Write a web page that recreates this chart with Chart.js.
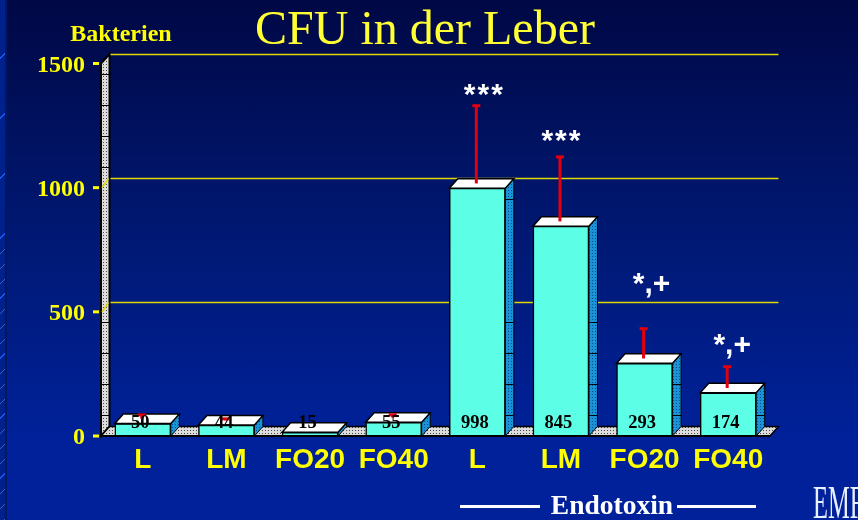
<!DOCTYPE html>
<html>
<head>
<meta charset="utf-8">
<title>CFU in der Leber</title>
<script src="https://cdn.jsdelivr.net/npm/chart.js@4"></script>
<style>
    html, body { margin: 0; padding: 0; overflow: hidden; }
    body {
        width: 858px;
        height: 520px;
        background: linear-gradient(to bottom, #000845 0%, #001a78 50%, #00219a 85%, #00219a 100%);
        position: relative;
    }
    /* textured strip along the left edge of the slide */
    .strip {
        position: absolute;
        left: 0; top: 0;
        width: 5px; height: 520px;
        background:
            repeating-linear-gradient(135deg, transparent 0, transparent 41px, #1a58f0 41px, #1a58f0 42.4px),
            repeating-linear-gradient(135deg, transparent 0, transparent 10px, #3a62b8 10px, #3a62b8 10.6px),
            #00208c;
        border-right: 2px solid #001860;
    }
    canvas { position: absolute; left: 0; top: 0; }
</style>
</head>
<body>
<div class="strip"></div>
<canvas id="chart" width="858" height="520"></canvas>
<script>
const categories = ['L', 'LM', 'FO20', 'FO40', 'L', 'LM', 'FO20', 'FO40'];
const values = [50, 44, 15, 55, 998, 845, 293, 174];
const errors = [18, 8, 0, 13, 315, 262, 122, 88];
const yTicks = [0, 500, 1000, 1500];
const wallLines = [1420, 1295, 1170, 1045, 422, 297, 173, 48];
const sideLines = [917, 422, 297, 173, 48];
const sigLabels = ['', '', '', '', '***', '***', '*,+', '*,+'];

// look of the fake 3D block
const DX = 8.5;
const DY = 9.5;
const sigShiftX = [0, 0, 0, 0, 7, 1, 7, 4];
const sigShiftY = [0, 0, 0, 0, 0, -6, -34, -11];

function dotPattern(bg, dot) {
    const c = document.createElement('canvas');
    c.width = 3;
    c.height = 3;
    const g = c.getContext('2d');
    g.fillStyle = bg;
    g.fillRect(0, 0, 3, 3);
    g.fillStyle = dot;
    g.fillRect(1, 1, 1, 1);
    return g.createPattern(c, 'repeat');
}

function poly(ctx, pts, fill, stroke, lw) {
    ctx.beginPath();
    pts.forEach((p, i) => i ? ctx.lineTo(p[0], p[1]) : ctx.moveTo(p[0], p[1]));
    ctx.closePath();
    ctx.fillStyle = fill;
    ctx.fill();
    if (stroke) {
        ctx.strokeStyle = stroke;
        ctx.lineWidth = lw || 1;
        ctx.stroke();
    }
}

function line(ctx, x1, y1, x2, y2) {
    ctx.beginPath();
    ctx.moveTo(x1, y1);
    ctx.lineTo(x2, y2);
    ctx.stroke();
}

function label(ctx, text, x, y, font, color) {
    ctx.font = font;
    ctx.fillStyle = color;
    ctx.textAlign = 'center';
    ctx.textBaseline = 'middle';
    ctx.fillText(text, x, y);
}

const backdrop = {
    id: 'backdrop',
    beforeDatasetsDraw(chart) {
        const { ctx, chartArea: a, scales: { y } } = chart;
        const y0 = y.getPixelForValue(0);
        const yTop = y.getPixelForValue(1500);
        const wall = dotPattern('#dcdcdc', '#484848');
        ctx.save();
        // left wall and floor
        poly(ctx, [[a.left, y0], [a.left + DX, y0 - DY], [a.left + DX, yTop - DY], [a.left, yTop]], wall, '#000', 2);
        poly(ctx, [[a.left, y0], [a.left + DX, y0 - DY], [a.right + DX, y0 - DY], [a.right, y0]], wall, '#000', 1.5);
        ctx.strokeStyle = '#000';
        ctx.lineWidth = 1;
        wallLines.forEach(v => {
            const py = Math.round(y.getPixelForValue(v) - DY) + 0.5;
            line(ctx, a.left, py, a.left + DX, py);
        });
        // yellow grid lines on the back plane, with their foot on the wall
        ctx.strokeStyle = '#dcd800';
        ctx.lineWidth = 1.5;
        yTicks.slice(1).forEach(v => {
            const py = y.getPixelForValue(v);
            const back = Math.round(py - DY) + 0.5;
            line(ctx, a.left + DX + 1, back, a.right + DX, back);
            if (v < 1500) {
                line(ctx, a.left + 1, py, a.left + DX - 1, back);
            }
        });
        // tick marks
        ctx.strokeStyle = '#ffff00';
        ctx.lineWidth = 3;
        yTicks.forEach(v => {
            const py = y.getPixelForValue(v);
            line(ctx, a.left - 8, py, a.left - 2, py);
        });
        ctx.restore();
    },
    afterDraw(chart) {
        const { ctx, chartArea: a, scales: { y } } = chart;
        const y0 = y.getPixelForValue(0);
        const meta = chart.getDatasetMeta(0);
        const side = dotPattern('#1a94d8', '#064a90');
        ctx.save();

        ctx.strokeStyle = '#000';
        ctx.lineWidth = 2;
        line(ctx, a.left, y0, a.right, y0);

        meta.data.forEach((bar, i) => {
            const l = bar.x - bar.width / 2;
            const r = bar.x + bar.width / 2;
            // side and top faces
            poly(ctx, [[r, bar.y], [r + DX, bar.y - DY], [r + DX, y0 - DY], [r, y0]], side, '#000', 1);
            poly(ctx, [[l, bar.y], [l + DX, bar.y - DY], [r + DX, bar.y - DY], [r, bar.y]], '#ffffff', '#000', 1.5);

            ctx.strokeStyle = '#000';
            ctx.lineWidth = 1;
            sideLines.forEach(v => {
                const py = Math.round(y.getPixelForValue(v) - DY) + 0.5;
                if (py > bar.y + 2 && py < y0 - 2) {
                    line(ctx, r, py, r + DX, py);
                }
            });

            // error bar, rises from the top face
            const cx = bar.x - 1;
            const from = bar.y - DY / 2;
            const to = y.getPixelForValue(values[i] + errors[i]) - DY / 2;
            if (errors[i] > 0) {
                ctx.fillStyle = '#e00010';
                ctx.fillRect(cx - 1.5, to, 3, from - to);
                ctx.fillRect(cx - 4, to - 1, 8, 3);
            }
        });

        meta.data.forEach((bar, i) => {
            label(ctx, String(values[i]), bar.x - 2.5, y0 - 13, 'bold 18.5px "Liberation Serif"', '#000');
            if (sigLabels[i]) {
                const top = y.getPixelForValue(values[i] + errors[i]) - DY / 2;
                ctx.letterSpacing = sigLabels[i] === '***' ? '2px' : '0px';
                label(ctx, sigLabels[i], bar.x + sigShiftX[i], top + sigShiftY[i] - 9, 'bold 30px "Liberation Sans"', '#ffffff');
                ctx.letterSpacing = '0px';
            }
        });

        // slide texts
        label(ctx, 'CFU in der Leber', 425, 31, '48px "Liberation Serif"', '#ffff33');
        label(ctx, 'Bakterien', 121, 35, 'bold 24px "Liberation Serif"', '#ffff00');
        label(ctx, 'Endotoxin', 612, 507, 'bold 27.5px "Liberation Serif"', '#ffffff');
        ctx.fillStyle = '#ffffff';
        ctx.fillRect(460, 505, 80, 3);
        ctx.fillRect(677, 505, 79, 3);

        ctx.translate(813, 518);
        ctx.scale(0.72, 1.35);
        ctx.font = '34px "Liberation Serif"';
        ctx.textAlign = 'left';
        ctx.textBaseline = 'alphabetic';
        ctx.fillStyle = '#e8f0ff';
        ctx.fillText('EMF', 0, 0);
        ctx.restore();
    }
};

new Chart(document.getElementById('chart'), {
    type: 'bar',
    data: {
        labels: categories,
        datasets: [{
            data: values,
            backgroundColor: '#5cffe6',
            borderColor: '#000',
            borderWidth: 1.5,
            barThickness: 56
        }]
    },
    options: {
        responsive: false,
        animation: false,
        layout: { padding: { left: 0, right: 88, top: 63.5, bottom: 0 } },
        plugins: {
            legend: { display: false },
            title: { display: false },
            tooltip: { enabled: false }
        },
        scales: {
            x: {
                afterFit(scale) { scale.height = 84; },
                grid: { display: false },
                border: { display: false },
                ticks: {
                    color: '#ffff00',
                    font: { family: '"Liberation Sans"', size: 28, weight: 'bold' },
                    padding: -1,
                    maxRotation: 0,
                    autoSkip: false
                }
            },
            y: {
                min: 0,
                max: 1500,
                afterFit(scale) { scale.width = 101; },
                afterBuildTicks(scale) { scale.ticks = yTicks.map(v => ({ value: v })); },
                grid: { display: false },
                border: { display: false },
                ticks: {
                    color: '#ffff00',
                    font: { family: '"Liberation Serif"', size: 24, weight: 'bold' },
                    padding: 8,
                    labelOffset: 2,
                    callback: value => String(value)
                }
            }
        }
    },
    plugins: [backdrop]
});
</script>
</body>
</html>
